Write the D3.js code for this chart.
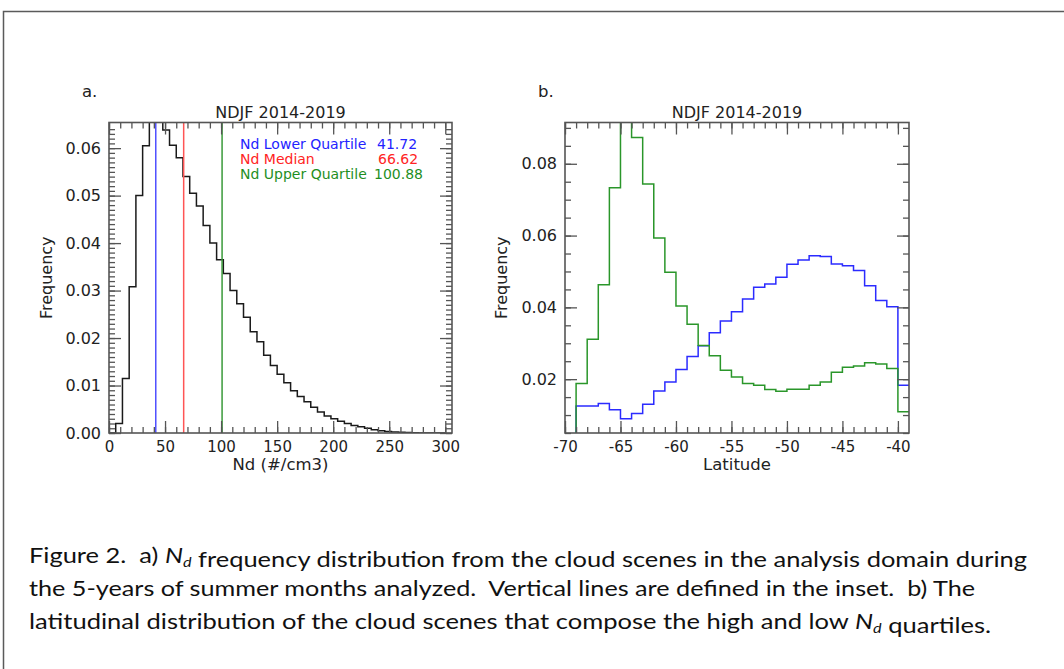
<!DOCTYPE html>
<html>
<head>
<meta charset="utf-8">
<script src="https://cdn.jsdelivr.net/npm/d3@7"></script>
<style>
    body { margin: 0; background: #fff; }
    svg { display: block; }
    .caption text { white-space: pre; }
</style>
</head>
<body>
<div id="figure"></div>
<script>
'use strict';

/*
Data
 */

// Panel a: Nd frequency, 6 #/cm3 bins from 0
const ndBinWidth = 6;
const ndFreq = [
    0.0000, 0.0020, 0.0115, 0.0308, 0.0500, 0.0605, 0.0680, 0.0670, 0.0638, 0.0606,
    0.0580, 0.0540, 0.0505, 0.0478, 0.0437, 0.0400, 0.0365, 0.0336, 0.0300, 0.0272,
    0.0244, 0.0213, 0.0192, 0.0164, 0.0142, 0.0124, 0.0106, 0.0089, 0.0077, 0.0066,
    0.0054, 0.0044, 0.0036, 0.0030, 0.0025, 0.0020, 0.0016, 0.0013, 0.0010, 0.0007,
    0.0005, 0.0003, 0.0002, 0.00015, 0.0001, 0.00005, 0.0000, 0.0000, 0.0000, 0.0000
];
const ndQuartiles = [
    {name: 'Nd Lower Quartile', value: 41.72, label: '41.72', color: '#2323ff', line: '#5050ff'},
    {name: 'Nd Median', value: 66.62, label: '66.62', color: '#ff2424', line: '#ff5555'},
    {name: 'Nd Upper Quartile', value: 100.88, label: '100.88', color: '#1f8f1f', line: '#3a9a3a'}
];
const ndTicks = [0, 50, 100, 150, 200, 250, 300];
const ndFreqTicks = [0, 0.01, 0.02, 0.03, 0.04, 0.05, 0.06];

// Panel b: latitude distribution of low / high Nd quartile scenes, 1 degree bins
const latBins = [
    -69, -68, -67, -66, -65, -64, -63, -62, -61, -60,
    -59, -58, -57, -56, -55, -54, -53, -52, -51, -50,
    -49, -48, -47, -46, -45, -44, -43, -42, -41, -40
];
const latLowNd = [
    0.0125, 0.0125, 0.0132, 0.0115, 0.0090, 0.0104, 0.0130, 0.0167, 0.0192, 0.0227,
    0.0263, 0.0293, 0.0329, 0.0362, 0.0388, 0.0423, 0.0456, 0.0465, 0.0484, 0.0520,
    0.0532, 0.0544, 0.0542, 0.0521, 0.0516, 0.0503, 0.0460, 0.0419, 0.0402, 0.0183
];
const latHighNd = [
    0.0188, 0.0311, 0.0463, 0.0733, 0.0980, 0.0873, 0.0744, 0.0593, 0.0498, 0.0404,
    0.0353, 0.0294, 0.0265, 0.0225, 0.0206, 0.0188, 0.0183, 0.0171, 0.0166, 0.0172,
    0.0172, 0.0183, 0.0192, 0.0219, 0.0233, 0.0237, 0.0246, 0.0242, 0.0230, 0.0109
];
const latTicks = [-70, -65, -60, -55, -50, -45, -40];
const latFreqTicks = [0.02, 0.04, 0.06, 0.08];

/*
StepPanel
 */
class StepPanel {

    // Configs
    font = 'DejaVu Sans, sans-serif';
    axisColor = '#555';
    textColor = '#222';
    majorLen = 12;
    minorLen = 6;

    constructor(_svg, _cfg) {
        this.svg = _svg;
        this.cfg = _cfg;
        this.init();
    }

    /*
    1. Init
     */
    init() {
        const vis = this;
        const c = vis.cfg;

        vis.x = d3.scaleLinear().domain(c.xDomain).range([c.left, c.right]);
        vis.y = d3.scaleLinear().domain(c.yDomain).range([c.bottom, c.top]);

        vis.g = vis.svg.append('g').attr('class', `panel panel-${c.id}`);

        // Clip for bars that run over the top
        vis.g.append('clipPath')
            .attr('id', `clip-${c.id}`)
            .append('rect')
            .attr('x', c.left)
            .attr('y', c.top)
            .attr('width', c.right - c.left)
            .attr('height', c.bottom - c.top);

        vis.plotG = vis.g.append('g').attr('clip-path', `url(#clip-${c.id})`);
        vis.axisG = vis.g.append('g');

        vis.renderAxes();
        vis.render();
    }

    /*
    2. Axes
     */
    renderAxes() {
        const vis = this;
        const c = vis.cfg;

        const style = (sel, size) => {
            sel.select('.domain').remove();
            sel.attr('font-family', vis.font)
                .attr('font-size', size)
                .attr('color', vis.axisColor);
            sel.selectAll('line').attr('stroke-width', 1.3);
            sel.selectAll('text').attr('fill', vis.textColor);
        };
        // plain hyphen minus like the original, not the unicode minus
        const intFmt = d => String(d);

        // Bottom
        vis.axisG.append('g')
            .attr('transform', `translate(0,${c.bottom})`)
            .call(d3.axisBottom(vis.x).tickValues(c.xMinor).tickFormat('')
                .tickSizeInner(-vis.minorLen).tickSizeOuter(0))
            .call(style, 15);
        vis.axisG.append('g')
            .attr('transform', `translate(0,${c.bottom})`)
            .call(d3.axisBottom(vis.x).tickValues(c.xTicks).tickFormat(intFmt)
                .tickSizeInner(-vis.majorLen).tickSizeOuter(0).tickPadding(8))
            .call(style, 15);

        // Top
        vis.axisG.append('g')
            .attr('transform', `translate(0,${c.top})`)
            .call(d3.axisTop(vis.x).tickValues(c.xMinor).tickFormat('')
                .tickSizeInner(-vis.minorLen).tickSizeOuter(0))
            .call(style, 15);
        vis.axisG.append('g')
            .attr('transform', `translate(0,${c.top})`)
            .call(d3.axisTop(vis.x).tickValues(c.xTicks).tickFormat('')
                .tickSizeInner(-vis.majorLen).tickSizeOuter(0))
            .call(style, 15);

        // Left
        vis.axisG.append('g')
            .attr('transform', `translate(${c.left},0)`)
            .call(d3.axisLeft(vis.y).tickValues(c.yMinor).tickFormat('')
                .tickSizeInner(-vis.minorLen).tickSizeOuter(0))
            .call(style, 16);
        vis.axisG.append('g')
            .attr('transform', `translate(${c.left},0)`)
            .call(d3.axisLeft(vis.y).tickValues(c.yTicks).tickFormat(d3.format('.2f'))
                .tickSizeInner(-vis.majorLen).tickSizeOuter(0).tickPadding(8))
            .call(style, 16);

        // Right
        vis.axisG.append('g')
            .attr('transform', `translate(${c.right},0)`)
            .call(d3.axisRight(vis.y).tickValues(c.yMinor).tickFormat('')
                .tickSizeInner(-vis.minorLen).tickSizeOuter(0))
            .call(style, 16);
        vis.axisG.append('g')
            .attr('transform', `translate(${c.right},0)`)
            .call(d3.axisRight(vis.y).tickValues(c.yTicks).tickFormat('')
                .tickSizeInner(-vis.majorLen).tickSizeOuter(0))
            .call(style, 16);

        // Frame
        vis.axisG.append('rect')
            .attr('x', c.left)
            .attr('y', c.top)
            .attr('width', c.right - c.left)
            .attr('height', c.bottom - c.top)
            .attr('fill', 'none')
            .attr('stroke', vis.axisColor)
            .attr('stroke-width', 1.6);

        // Texts
        const cx = (c.left + c.right) / 2;
        const text = (x, y, str, size, anchor) => vis.g.append('text')
            .attr('x', x)
            .attr('y', y)
            .attr('font-family', vis.font)
            .attr('font-size', size)
            .attr('fill', vis.textColor)
            .attr('text-anchor', anchor)
            .text(str);

        text(cx, c.top - 5, c.title, 16, 'middle');
        text(cx, c.bottom + 36.5, c.xLabel, 16.5, 'middle');
        text(c.letterX, 97, c.letter, 16.5, 'start');
        vis.g.append('text')
            .attr('transform', `translate(${c.yLabelX},${(c.top + c.bottom) / 2}) rotate(-90)`)
            .attr('font-family', vis.font)
            .attr('font-size', 16)
            .attr('fill', vis.textColor)
            .attr('text-anchor', 'middle')
            .text('Frequency');
    }

    /*
    3. Render
     */
    render() {
        const vis = this;
        const c = vis.cfg;
        const base = vis.y.domain()[0];

        const line = d3.line()
            .x(d => vis.x(d[0]))
            .y(d => vis.y(d[1]));

        c.series.forEach(s => {
            // Step outline of the histogram
            const pts = [[s.starts[0], base]];
            s.values.forEach((v, i) => {
                pts.push([s.starts[i], v]);
                pts.push([s.starts[i] + s.width, v]);
            });
            vis.plotG.append('path')
                .attr('d', line(pts))
                .attr('fill', 'none')
                .attr('stroke', s.color)
                .attr('stroke-width', 1.5)
                .attr('stroke-linejoin', 'miter');
        });
    }

    addVLines(lines) {
        const vis = this;
        vis.plotG.selectAll('.vline')
            .data(lines)
            .join('line')
            .attr('class', 'vline')
            .attr('x1', d => vis.x(d.value))
            .attr('x2', d => vis.x(d.value))
            .attr('y1', vis.y.range()[0])
            .attr('y2', vis.y.range()[1])
            .attr('stroke', d => d.line)
            .attr('stroke-width', 1.5);
    }
}

/*
Build
 */
const svg = d3.select('#figure')
    .append('svg')
    .attr('width', 1064)
    .attr('height', 669);

svg.append('rect').attr('width', 1064).attr('height', 669).attr('fill', '#fff');

// Page frame
svg.append('path')
    .attr('d', 'M3.5,669V11.5H1064')
    .attr('fill', 'none')
    .attr('stroke', '#5a5a5a')
    .attr('stroke-width', 1.5);

// Panel a
const panelA = new StepPanel(svg, {
    id: 'a', letter: 'a.', letterX: 82, yLabelX: 51.5,
    left: 109, right: 452, top: 122.5, bottom: 433,
    xDomain: [0, 306], yDomain: [0, 0.0654],
    xTicks: ndTicks, xMinor: d3.range(0, 301, 10),
    yTicks: ndFreqTicks, yMinor: d3.range(0, 0.065, 0.001),
    title: 'NDJF 2014-2019', xLabel: 'Nd (#/cm3)',
    series: [{starts: ndFreq.map((d, i) => i * ndBinWidth), width: ndBinWidth, values: ndFreq, color: '#1a1a1a'}]
});
panelA.addVLines(ndQuartiles);

// Legend / inset
const legendG = svg.append('g')
    .attr('font-family', 'DejaVu Sans, sans-serif')
    .attr('font-size', 14);
const valueX = [377, 378, 374];
ndQuartiles.forEach((q, i) => {
    const yy = 148.5 + i * 15;
    legendG.append('text').attr('x', 240).attr('y', yy).attr('fill', q.color).text(q.name);
    legendG.append('text').attr('x', valueX[i]).attr('y', yy).attr('fill', q.color).text(q.label);
});

// Panel b
new StepPanel(svg, {
    id: 'b', letter: 'b.', letterX: 538, yLabelX: 506.5,
    left: 565, right: 909, top: 122.5, bottom: 433,
    xDomain: [-70, -39], yDomain: [0.005, 0.0915],
    xTicks: latTicks, xMinor: d3.range(-70, -39, 1),
    yTicks: latFreqTicks, yMinor: d3.range(0.005, 0.091, 0.005),
    title: 'NDJF 2014-2019', xLabel: 'Latitude',
    series: [
        {starts: latBins, width: 1, values: latLowNd, color: '#2b2bff'},
        {starts: latBins, width: 1, values: latHighNd, color: '#2a962a'}
    ]
});

// Caption
const captionG = svg.append('g')
    .attr('class', 'caption')
    .attr('font-family', 'Lato, sans-serif')
    .attr('font-size', 22)
    .attr('fill', '#111');

function captionLine(y, len, parts) {
    const t = captionG.append('text')
        .attr('x', 29)
        .attr('y', y)
        .attr('xml:space', 'preserve')
        .attr('textLength', len)
        .attr('lengthAdjust', 'spacingAndGlyphs');
    parts.forEach(p => {
        if (p === 'Nd') {
            t.append('tspan').attr('font-style', 'italic').text('N');
            t.append('tspan').attr('font-style', 'italic').attr('font-size', 14).attr('dy', 4).text('d');
            t.append('tspan').attr('dy', -4).text('');
        } else {
            t.append('tspan').text(p);
        }
    });
}

captionLine(563, 998, ['Figure 2.\u00a0\u00a0a) ', 'Nd', ' frequency distribution from the cloud scenes in the analysis domain during']);
captionLine(596, 946, ['the 5-years of summer months analyzed.\u00a0\u00a0Vertical lines are defined in the inset.\u00a0\u00a0b) The']);
captionLine(629, 962, ['latitudinal distribution of the cloud scenes that compose the high and low ', 'Nd', ' quartiles.']);
</script>
</body>
</html>
